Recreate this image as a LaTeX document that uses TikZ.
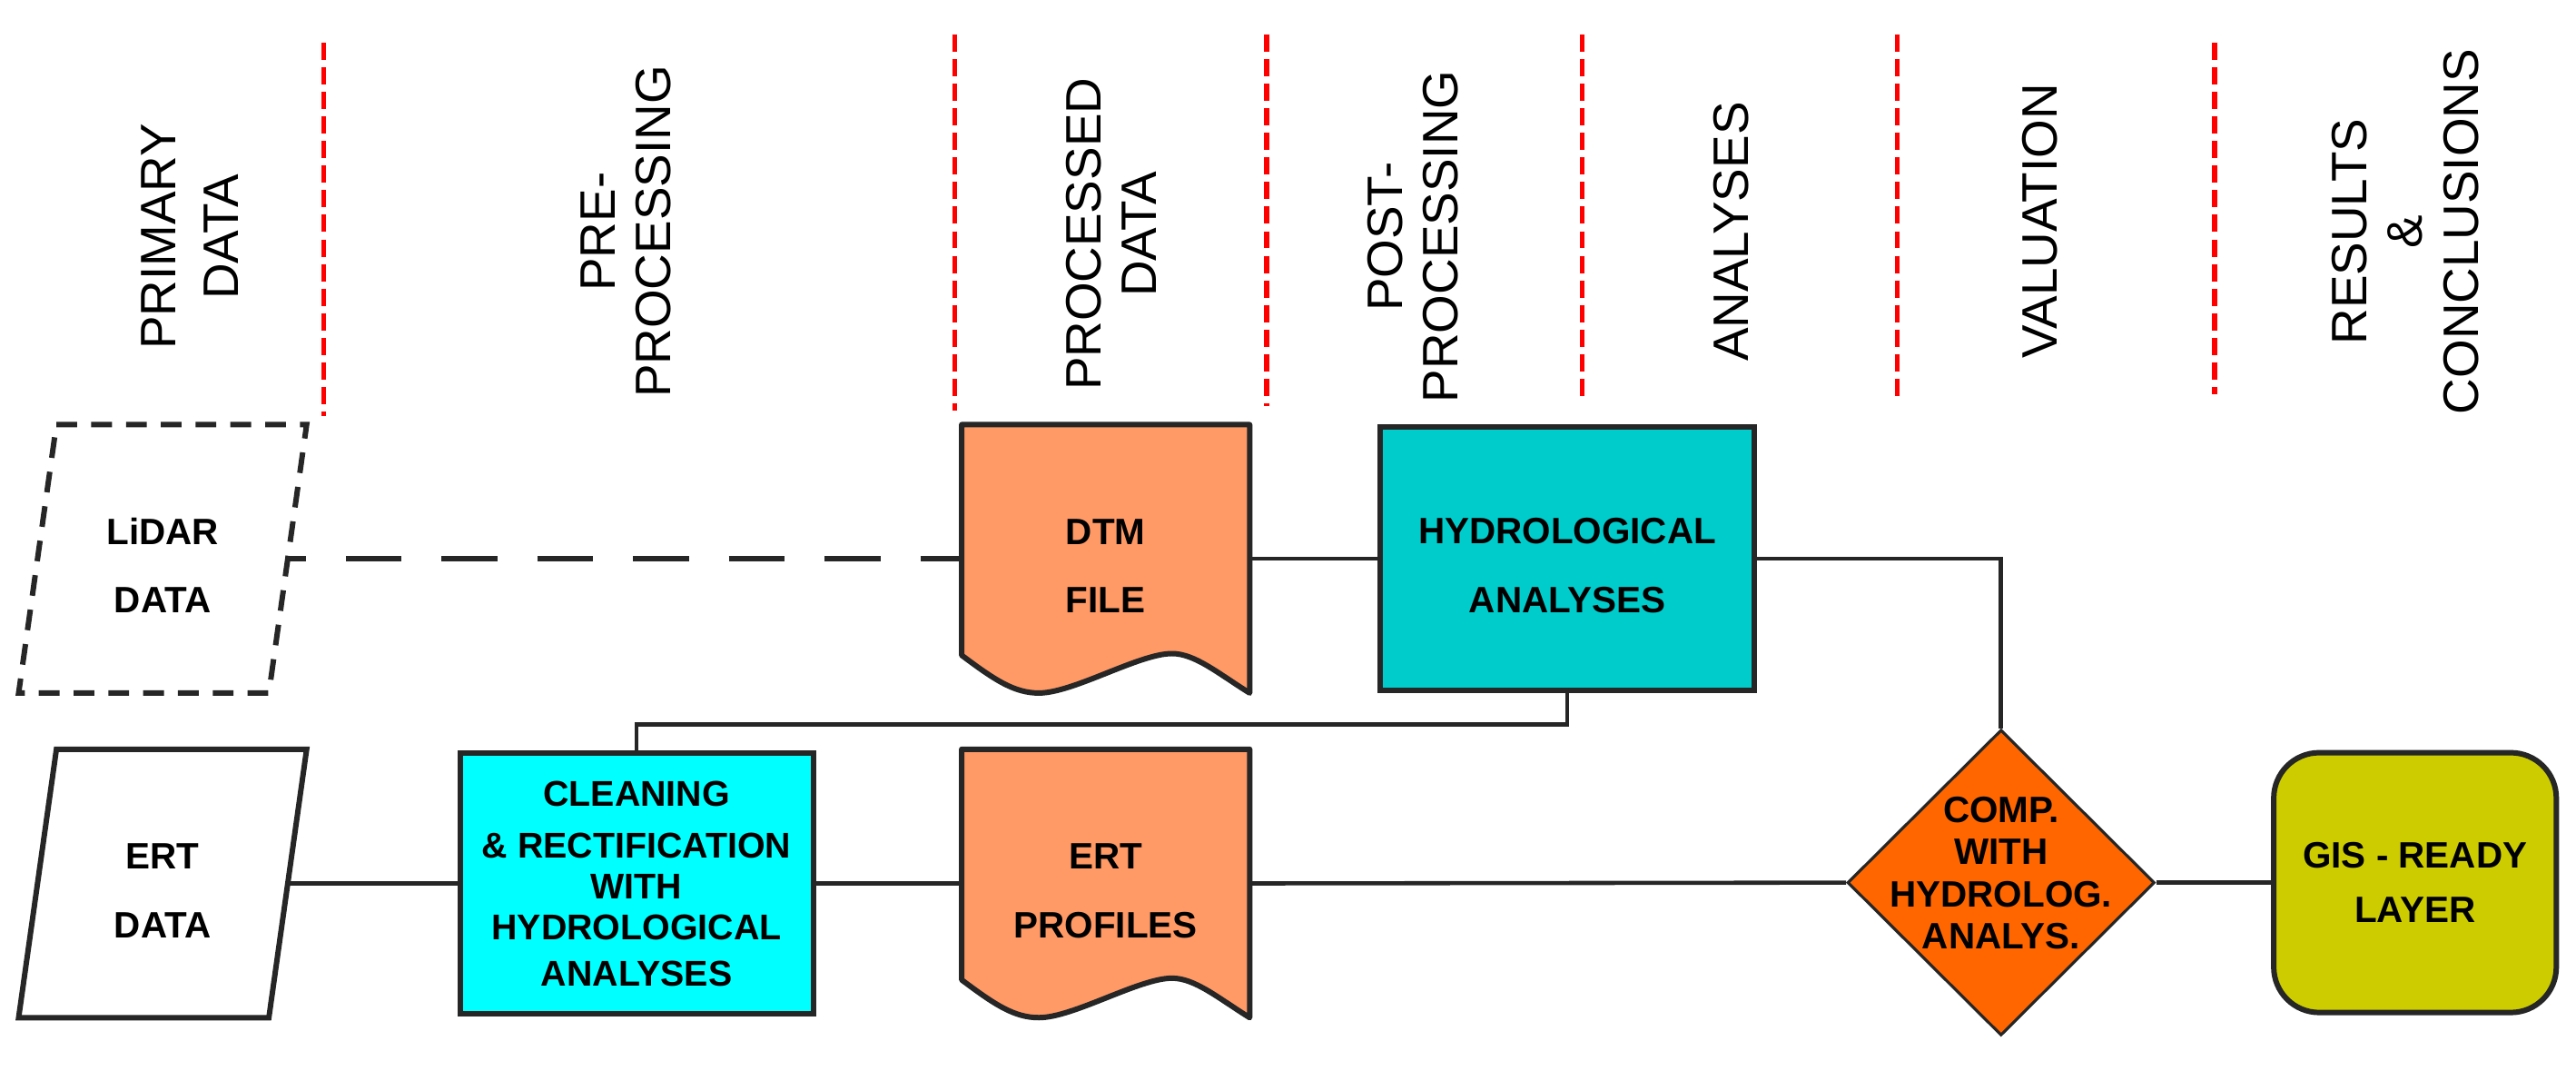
\documentclass[tikz,border=0pt]{standalone}
\usepackage{fontspec}
\setmainfont{Liberation Sans}
\usetikzlibrary{shapes.geometric,backgrounds}
\definecolor{docorange}{HTML}{FF9966}
\definecolor{hydroteal}{HTML}{00CCCC}
\definecolor{cleancyan}{HTML}{00FFFF}
\definecolor{comporange}{HTML}{FF6600}
\definecolor{gisolive}{HTML}{CCCC00}
\definecolor{edge}{HTML}{262626}
\tikzset{
  phase/.style={rotate=90, align=center, inner sep=0pt, font=\fontsize{15.6}{17.5}\selectfont},
  sepline/.style={red, line width=1.5pt, dash pattern=on 5.4pt off 2.3pt},
  flowbox/.style={draw=edge, line width=1.7pt, align=center, inner sep=0pt, font=\bfseries\fontsize{11.5}{21.6}\selectfont},
  datanode/.style={flowbox, draw=none, text height=34pt, minimum width=26.96mm, minimum height=28.95mm},
  docnode/.style={flowbox, draw=none, text height=34pt, minimum width=31.12mm, minimum height=28.95mm},
  dataline/.style={draw=edge, line width=1.7pt, fill=white, line join=miter},
  lidardash/.style={dash pattern=on 6.5pt off 4.4pt},
  docline/.style={draw=edge, line width=1.7pt, fill=docorange, line join=round},
  wire/.style={draw=edge, line width=1.3pt},
}
\begin{document}
\begin{tikzpicture}[x=0.18093mm, y=-0.18093mm]
\useasboundingbox (0,0) rectangle (1568,651.6);
\foreach \x/\a/\b in {197/26/253, 581/21/250, 771/21/247, 963/21/244, 1155/21/242, 1348/26/240}
  \draw[sepline] (\x,\a) -- (\x,\b);
\node[phase, font=\fontsize{15.6}{19.5}\selectfont] (primary) at (115.5,144) {PRIMARY\\DATA};
\node[phase] (preproc) at (381,141) {PRE-\\PROCESSING};
\node[phase] (processed) at (676.5,142.5) {PROCESSED\\DATA};
\node[phase] (postproc) at (860,144) {POST-\\PROCESSING};
\node[phase] (analyses) at (1053.5,141) {ANALYSES};
\node[phase] (valuation) at (1241.5,134.5) {VALUATION};
\node[phase] (results) at (1464,141) {RESULTS\\\&\\CONCLUSIONS};

\node[datanode] (lidar) at (99,340) {LiDAR\\DATA};
\node[datanode] (ertdata) at (99,537.5) {ERT\\DATA};
\node[docnode] (dtm) at (673,340) {DTM\\FILE};
\node[docnode] (ertprof) at (673,537.5) {ERT\\PROFILES};
\node[flowbox, fill=hydroteal, text height=34pt, minimum width=41.25mm, minimum height=28.95mm] (hydro) at (954,340) {HYDROLOGICAL\\ANALYSES};
\node[flowbox, fill=cleancyan, minimum width=38.9mm, minimum height=28.77mm, font=\bfseries\fontsize{11.2}{12.8}\selectfont] (clean) at (387.5,537.5)
  {CLEANING\\[3.6pt]\& RECTIFICATION\\WITH\\HYDROLOGICAL\\[1.5pt]ANALYSES};
\node[diamond, draw=edge, line width=0.9pt, fill=comporange, inner sep=0pt, minimum width=33.83mm, minimum height=33.65mm,
  label={[align=center, yshift=3pt, font=\bfseries\fontsize{11.5}{13.1}\selectfont]center:COMP.\\WITH\\HYDROLOG.\\ANALYS.}] (comp) at (1218,537) {};
\node[flowbox, fill=gisolive, rounded corners=5mm, minimum width=31.12mm, minimum height=28.6mm,
  font=\bfseries\fontsize{11.5}{17.2}\selectfont] (gis) at (1470,537) {GIS - READY\\LAYER};

\begin{scope}[on background layer]
\foreach \p/\s in {lidar/lidardash, ertdata/solid}
  \draw[dataline, \s] ([shift={(11.5,0)}]\p.north west) -- ([shift={(11.5,0)}]\p.north east)
    -- ([shift={(-11.5,0)}]\p.south east) -- ([shift={(-11.5,0)}]\p.south west) -- cycle;
\foreach \d in {dtm,ertprof}
  \draw[docline] (\d.south east) -- (\d.north east) -- (\d.north west) -- ([shift={(0,-23)}]\d.south west)
    .. controls ([shift={(20,-8)}]\d.south west) and ([shift={(32,0)}]\d.south west) .. ([shift={(47,0)}]\d.south west)
    .. controls ([shift={(68,0)}]\d.south west) and ([shift={(108,-24)}]\d.south west) .. ([shift={(128,-24)}]\d.south west)
    .. controls ([shift={(142,-24)}]\d.south west) and ([shift={(156,-12)}]\d.south west) .. (\d.south east) -- cycle;
\end{scope}

\draw[wire, line width=1.6pt, dash pattern=on 17.5pt off 12.5pt, dash phase=11.8pt] (lidar.east) -- (dtm.west);
\draw[wire] (dtm.east) -- (hydro.west);
\draw[wire] (hydro.east) -| (comp.north);
\draw[wire] (hydro.south) -- ++(0,19) -| (clean.north);
\draw[wire] (ertdata.east) -- (clean.west);
\draw[wire] (clean.east) -- (ertprof.west);
\draw[wire] (ertprof.east) -- (comp.west);
\draw[wire] (comp.east) -- (gis.west);
\end{tikzpicture}
\end{document}
